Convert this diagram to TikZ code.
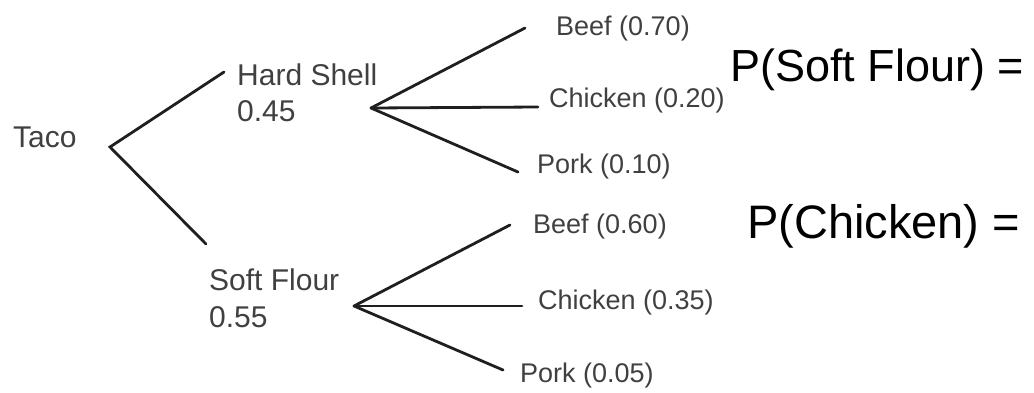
\documentclass[tikz,border=0pt]{standalone}
\usepackage{fontspec}
\setmainfont{Liberation Sans}
\tikzset{
  branch/.style={line width=2.8pt, draw=black!88, line cap=round},
  treetxt/.style={inner sep=0pt, anchor=base west, text=black!75,
    font=\fontsize{30}{35}\selectfont},
  leaftxt/.style={treetxt, font=\fontsize{27}{31}\selectfont},
  asktxt/.style={inner sep=0pt, anchor=base west, font=\fontsize{45}{54}\selectfont}
}
\begin{document}
\begin{tikzpicture}[x=1pt,y=-1pt]
  \useasboundingbox (0,0) rectangle (1034,392);
  % Premier niveau
  \node [treetxt] (taco) at (13,147) {Taco};
  \coordinate (taco-fork) at (110,147);
  \coordinate (hard-in) at (224,72);
  \coordinate (soft-in) at (206,244);
  \draw [branch] (hard-in) -- (taco-fork) -- (soft-in);
  \node [treetxt] (hard) at (237,85) {Hard Shell};
  \node [treetxt] (hard-p) at (237,121) {0.45};
  \node [treetxt] (soft) at (209,290) {Soft Flour};
  \node [treetxt] (soft-p) at (209,327) {0.55};
  % Second niveau
  \coordinate (hard-fork) at (371,108);
  \coordinate (soft-fork) at (354,306);
  \foreach \fork/\leaf/\ex/\ey/\tx/\ty/\txt in {
    hard/beef-a/525/28/556/35/{Beef (0.70)},
    hard/chicken-a/538/107/549/107/{Chicken (0.20)},
    hard/pork-a/518/172/537/173/{Pork (0.10)},
    soft/beef-b/510/225/533/233/{Beef (0.60)},
    soft/chicken-b/522/306/538/309/{Chicken (0.35)},
    soft/pork-b/503/370/520/382/{Pork (0.05)}}
  {
    \coordinate (\leaf-end) at (\ex,\ey);
    \draw [branch] (\fork-fork) -- (\leaf-end);
    \node [leaftxt] (\leaf) at (\tx,\ty) {\txt};
  }
  % Questions
  \node [asktxt] (ask-soft) at (730,81) {P(Soft Flour) =};
  \node [asktxt, font=\fontsize{47}{56}\selectfont] (ask-chicken) at (747,238) {P(Chicken) =};
\end{tikzpicture}
\end{document}
